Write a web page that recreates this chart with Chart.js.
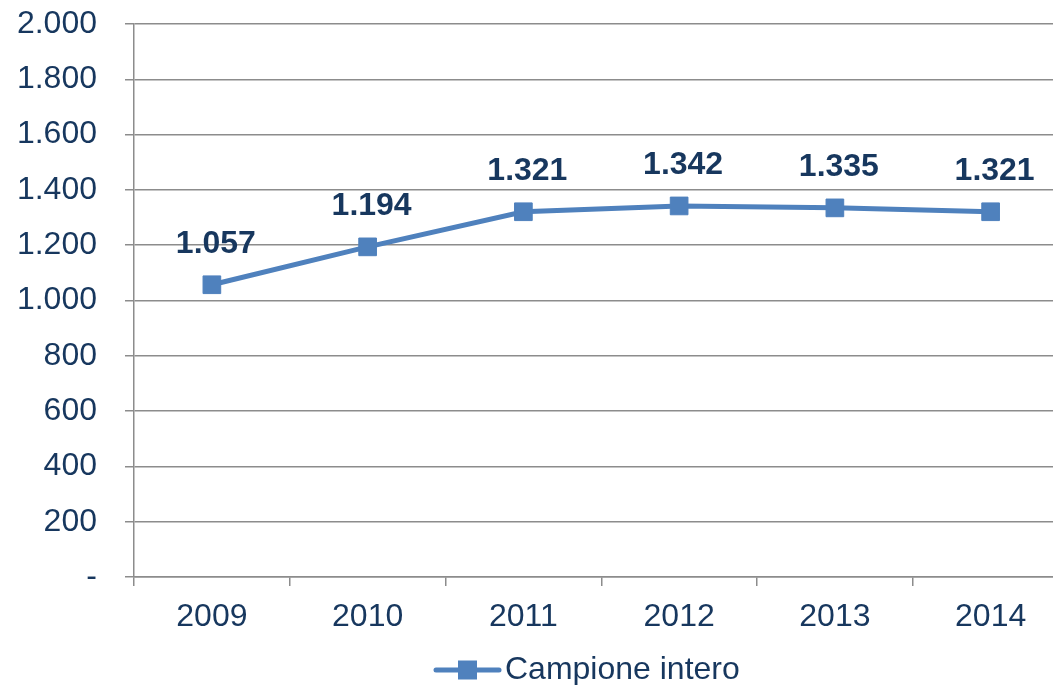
<!DOCTYPE html>
<html>
<head>
<meta charset="utf-8">
<script src="https://cdn.jsdelivr.net/npm/chart.js@4"></script>
<style>
  html, body { margin: 0; padding: 0; background: #fff; overflow: hidden; }
  #wrap { width: 1082px; height: 685px; }
</style>
</head>
<body>
<div id="wrap"><canvas id="myChart"></canvas></div>
<script>
// yearly values
var years = ['2009', '2010', '2011', '2012', '2013', '2014'];
var campione = [1057, 1194, 1321, 1342, 1335, 1321];
var seriesName = 'Campione intero';
var yTicks = [0, 200, 400, 600, 800, 1000, 1200, 1400, 1600, 1800, 2000];

var navy = '#17375E';
var blue = '#4F81BD';
var gridGray = '#8c8c8c';
var font = 'Arial, "Liberation Sans", sans-serif';

// italian style thousands separator, zero shown as a dash
function fmt(v) {
  if (v === 0) return '-';
  return v.toString().replace(/\B(?=(\d{3})+(?!\d))/g, '.');
}

// value labels above each point
var valueLabels = {
  id: 'valueLabels',
  afterDatasetsDraw: function (chart) {
    var ctx = chart.ctx;
    var meta = chart.getDatasetMeta(0);
    ctx.save();
    ctx.font = 'bold 32px ' + font;
    ctx.fillStyle = navy;
    ctx.textAlign = 'center';
    ctx.textBaseline = 'middle';
    meta.data.forEach(function (pt, i) {
      ctx.fillText(fmt(chart.data.datasets[0].data[i]), pt.x + 4, pt.y - 41);
    });
    ctx.restore();
  }
};

// legend at the bottom: line sample with square marker
var bottomLegend = {
  id: 'bottomLegend',
  afterDraw: function (chart) {
    var ctx = chart.ctx;
    var ds = chart.data.datasets[0];
    var y = 670;
    ctx.save();
    ctx.strokeStyle = ds.borderColor;
    ctx.lineWidth = ds.borderWidth;
    ctx.lineCap = 'round';
    ctx.beginPath();
    ctx.moveTo(436, y);
    ctx.lineTo(499, y);
    ctx.stroke();
    ctx.fillStyle = ds.pointBackgroundColor;
    ctx.fillRect(458, y - 9.5, 19, 19);
    ctx.font = '32px ' + font;
    ctx.fillStyle = navy;
    ctx.textAlign = 'left';
    ctx.textBaseline = 'middle';
    ctx.fillText(ds.label, 505, y);
    ctx.restore();
  }
};

var ctx = document.getElementById('myChart').getContext('2d');
var myChart = new Chart(ctx, {
  type: 'line',
  data: {
    labels: years,
    datasets: [
      {
        label: seriesName,
        data: campione,
        borderColor: blue,
        borderWidth: 5,
        pointStyle: 'rect',
        pointRadius: 12.5,
        pointBorderWidth: 1,
        pointBackgroundColor: blue,
        pointBorderColor: blue,
        tension: 0,
      },
    ],
  },
  options: {
    responsive: true,
    maintainAspectRatio: false,
    animation: false,
    layout: { padding: { top: 24, right: 0, bottom: 0, left: 0 } },
    plugins: {
      legend: { display: false },
      tooltip: { enabled: false },
    },
    scales: {
      x: {
        offset: true,
        grid: {
          offset: true,
          drawOnChartArea: false,
          drawTicks: true,
          tickLength: 9,
          color: gridGray,
          lineWidth: 1.5,
        },
        border: { color: gridGray, width: 1.5 },
        ticks: {
          padding: 12,
          color: navy,
          font: { family: font, size: 32 },
        },
        afterFit: function (scale) {
          scale.height = 108;
          scale.paddingLeft = 0;
          scale.paddingRight = 0;
        },
      },
      y: {
        min: 0,
        max: 2000,
        afterBuildTicks: function (scale) {
          scale.ticks = yTicks.map(function (v) { return { value: v }; });
        },
        grid: {
          color: gridGray,
          lineWidth: 1.5,
          tickLength: 9,
        },
        border: { color: gridGray, width: 1.5 },
        ticks: {
          padding: 28,
          color: navy,
          font: { family: font, size: 32 },
          callback: function (value) {
            return fmt(value);
          },
        },
        afterFit: function (scale) {
          scale.width = 134;
          scale.paddingTop = 0;
          scale.paddingBottom = 0;
        },
      },
    },
  },
  plugins: [valueLabels, bottomLegend],
});
</script>
</body>
</html>
